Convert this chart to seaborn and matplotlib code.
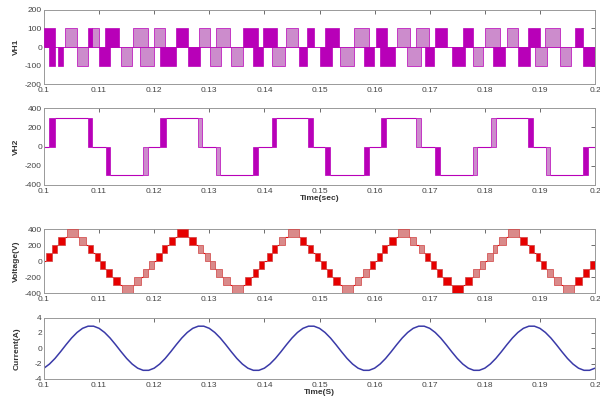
import numpy as np
import pandas as pd
import matplotlib
matplotlib.use("Agg")
import matplotlib.pyplot as plt
import seaborn as sns

# ---------------- data ----------------
time_ticks = [0.10, 0.11, 0.12, 0.13, 0.14, 0.15, 0.16, 0.17, 0.18, 0.19, 0.20]
time_tick_labels = ["0.1", "0.11", "0.12", "0.13", "0.14", "0.15", "0.16", "0.17", "0.18", "0.19", "0.2"]

vh1_ticks = [-200, -100, 0, 100, 200]
vh2_ticks = [-400, -200, 0, 200, 400]
volt_ticks = [-400, -200, 0, 200, 400]
cur_ticks = [-4, -2, 0, 2, 4]

# VH1 PWM blocks: start, end, level, dense(1)/sparse(0)
vh1_start = [0.1000, 0.1010, 0.1025, 0.1039, 0.1060, 0.1079, 0.1088, 0.1100, 0.1111, 0.1139,
             0.1161, 0.1174, 0.1199, 0.1210, 0.1240, 0.1262, 0.1282, 0.1302, 0.1312, 0.1339,
             0.1361, 0.1379, 0.1398, 0.1413, 0.1440, 0.1462, 0.1478, 0.1500, 0.1510, 0.1537,
             0.1562, 0.1580, 0.1603, 0.1610, 0.1640, 0.1658, 0.1676, 0.1692, 0.1710, 0.1740,
             0.1761, 0.1779, 0.1800, 0.1815, 0.1840, 0.1861, 0.1879, 0.1891, 0.1909, 0.1936,
             0.1963, 0.1979]
vh1_end = [0.1020, 0.1020, 0.1034, 0.1060, 0.1079, 0.1088, 0.1100, 0.1120, 0.1136, 0.1160,
           0.1189, 0.1199, 0.1219, 0.1240, 0.1262, 0.1283, 0.1302, 0.1322, 0.1337, 0.1361,
           0.1389, 0.1398, 0.1422, 0.1437, 0.1461, 0.1477, 0.1490, 0.1522, 0.1536, 0.1562,
           0.1589, 0.1598, 0.1623, 0.1637, 0.1664, 0.1685, 0.1698, 0.1707, 0.1731, 0.1764,
           0.1779, 0.1797, 0.1828, 0.1837, 0.1861, 0.1882, 0.1900, 0.1912, 0.1936, 0.1957,
           0.1979, 0.2000]
vh1_level = [100, -100, -100, 100, -100, 100, 100, -100, 100, -100,
             100, -100, 100, -100, 100, -100, 100, -100, 100, -100,
             100, -100, 100, -100, 100, -100, 100, -100, 100, -100,
             100, -100, 100, -100, 100, -100, 100, -100, 100, -100,
             100, -100, 100, -100, 100, -100, 100, -100, 100, -100,
             100, -100]
vh1_dense = [1, 1, 1, 0, 0, 1, 0, 1, 1, 0,
             0, 0, 0, 1, 1, 1, 0, 0, 0, 0,
             1, 1, 1, 0, 0, 1, 1, 1, 1, 0,
             0, 1, 1, 1, 0, 0, 0, 1, 1, 1,
             1, 0, 0, 1, 0, 1, 1, 0, 0, 0,
             1, 1]

# VH2 transition blocks: start, end, level before, level after, dense
vh2_start = [0.1010, 0.1080, 0.1112, 0.1180, 0.1211, 0.1280, 0.1312, 0.1379, 0.1413, 0.1480,
             0.1510, 0.1580, 0.1611, 0.1676, 0.1710, 0.1778, 0.1811, 0.1878, 0.1911, 0.1979]
vh2_end = [0.1020, 0.1088, 0.1120, 0.1189, 0.1221, 0.1287, 0.1320, 0.1389, 0.1421, 0.1488,
           0.1519, 0.1589, 0.1621, 0.1685, 0.1718, 0.1786, 0.1821, 0.1887, 0.1918, 0.1988]
vh2_from = [0, 300, 0, -300, 0, 300, 0, -300, 0, 300,
            0, -300, 0, 300, 0, -300, 0, 300, 0, -300]
vh2_to = [300, 0, -300, 0, 300, 0, -300, 0, 300, 0,
          -300, 0, 300, 0, -300, 0, 300, 0, -300, 0]
vh2_dense = [1, 1, 1, 0, 1, 0, 0, 1, 1, 1,
             1, 1, 1, 0, 1, 0, 0, 1, 0, 1]

# Output voltage staircase blocks (one block per level step, one list per cycle)
volt_cycle_start = [0.10, 0.12, 0.14, 0.16, 0.18]
volt_rel_start = [0.0004, 0.0014, 0.0026, 0.0042, 0.0064, 0.0080, 0.0092,
                  0.0102, 0.0113, 0.0125, 0.0141, 0.0164, 0.0179, 0.0191]
volt_rel_end = [0.0014, 0.0023, 0.0038, 0.0062, 0.0076, 0.0089, 0.0101,
                0.0111, 0.0123, 0.0138, 0.0161, 0.0176, 0.0189, 0.0200]
volt_low = [0, 100, 200, 300, 200, 100, 0, -100, -200, -300, -400, -300, -200, -100]
volt_step = 100
volt_dense = [
    [1, 1, 1, 0, 0, 1, 1, 1, 1, 1, 0, 0, 0, 0],
    [1, 1, 1, 1, 1, 0, 0, 0, 0, 0, 0, 1, 1, 1],
    [1, 1, 0, 0, 1, 1, 1, 1, 1, 1, 0, 0, 0, 1],
    [1, 1, 1, 0, 0, 0, 1, 1, 1, 1, 1, 1, 0, 0],
    [0, 0, 0, 0, 1, 1, 1, 1, 0, 0, 0, 1, 1, 1],
]

# Load current (A), sampled every 1 ms from 0.1 s to 0.2 s
cur_time = np.linspace(0.1, 0.2, 101)
cur_values = [
    -2.60, -2.06, -1.33, -0.46, 0.46, 1.33, 2.06, 2.60, 2.88, 2.88,
    2.60, 2.06, 1.33, 0.46, -0.46, -1.33, -2.06, -2.60, -2.88, -2.88,
    -2.60, -2.06, -1.33, -0.46, 0.46, 1.33, 2.06, 2.60, 2.88, 2.88,
    2.60, 2.06, 1.33, 0.46, -0.46, -1.33, -2.06, -2.60, -2.88, -2.88,
    -2.60, -2.06, -1.33, -0.46, 0.46, 1.33, 2.06, 2.60, 2.88, 2.88,
    2.60, 2.06, 1.33, 0.46, -0.46, -1.33, -2.06, -2.60, -2.88, -2.88,
    -2.60, -2.06, -1.33, -0.46, 0.46, 1.33, 2.06, 2.60, 2.88, 2.88,
    2.60, 2.06, 1.33, 0.46, -0.46, -1.33, -2.06, -2.60, -2.88, -2.88,
    -2.60, -2.06, -1.33, -0.46, 0.46, 1.33, 2.06, 2.60, 2.88, 2.88,
    2.60, 2.06, 1.33, 0.46, -0.46, -1.33, -2.06, -2.60, -2.88, -2.88,
    -2.60,
]

# ---------------- style ----------------
sns.set_style("white")
plt.rcParams["font.family"] = ["Liberation Sans", "DejaVu Sans"]

MAG_DARK = "#b800b8"
MAG_LIGHT = "#cc8ccc"
RED_DARK = "#e60000"
RED_LIGHT = "#d98a8a"
BLUE = "#3a3aa8"

fig = plt.figure(figsize=(6.0, 3.98), dpi=100)
left, width = 0.0733, 0.9184
ax1 = fig.add_axes([left, 0.7889, width, 0.1860])
ax2 = fig.add_axes([left, 0.5352, width, 0.1934])
ax3 = fig.add_axes([left, 0.2638, width, 0.1608])
ax4 = fig.add_axes([left, 0.0480, width, 0.1540])


def style_axis(ax, yticks, ylabel):
    ax.set_xlim(0.1, 0.2)
    ax.set_ylim(yticks[0], yticks[-1])
    ax.set_xticks(time_ticks)
    ax.set_xticklabels(time_tick_labels)
    ax.set_yticks(yticks)
    ax.set_yticklabels([str(v) for v in yticks])
    ax.tick_params(direction="in", length=3, width=0.6, top=True, right=True,
                   labelsize=6, colors="#555555", pad=1.5, labelcolor="#444444")
    ax.tick_params(axis="x", pad=2.5)
    for s in ax.spines.values():
        s.set_color("#999999")
        s.set_linewidth(0.7)
    ax.set_ylabel(ylabel, fontsize=6, fontweight="bold", color="#333333")
    ax.yaxis.set_label_coords(-0.043, 0.5)
    ax.grid(False)


# ---- panel 1 : VH1 ----
ax1.axhline(0, color=MAG_DARK, lw=0.6, zorder=1)
for dense_flag in (0, 1):
    idx = [i for i in range(len(vh1_start)) if vh1_dense[i] == dense_flag]
    ax1.bar([vh1_start[i] for i in idx],
            [vh1_level[i] for i in idx],
            width=[vh1_end[i] - vh1_start[i] for i in idx],
            align="edge",
            color=MAG_DARK if dense_flag else MAG_LIGHT,
            edgecolor=MAG_DARK, linewidth=0.5, zorder=2 + dense_flag)
style_axis(ax1, vh1_ticks, "VH1")

# ---- panel 2 : VH2 ----
seg_start = [0.1] + vh2_end
seg_end = vh2_start + [0.2]
seg_level = [vh2_from[0]] + vh2_to
ax2.hlines(seg_level, seg_start, seg_end, color=MAG_DARK, lw=0.8, zorder=2)
for i in range(len(vh2_start)):
    lo = min(vh2_from[i], vh2_to[i])
    hi = max(vh2_from[i], vh2_to[i])
    ax2.bar(vh2_start[i], hi - lo, bottom=lo, width=vh2_end[i] - vh2_start[i],
            align="edge", color=MAG_DARK if vh2_dense[i] else MAG_LIGHT,
            edgecolor=MAG_DARK, linewidth=0.5, zorder=3)
style_axis(ax2, vh2_ticks, "VH2")
ax2.set_xlabel("Time(sec)", fontsize=6, fontweight="bold", color="#333333", labelpad=0)

# ---- panel 3 : output voltage ----
for c, c0 in enumerate(volt_cycle_start):
    starts = [c0 + s for s in volt_rel_start]
    ends = [c0 + e for e in volt_rel_end]
    for i in range(len(starts) - 1):
        hi_i = volt_low[i] + volt_step
        lvl = hi_i if hi_i == volt_low[i + 1] else volt_low[i]
        ax3.hlines(lvl, ends[i], starts[i + 1], color=RED_DARK, lw=0.8, zorder=2)
    if c > 0:
        ax3.hlines(0, volt_cycle_start[c - 1] + volt_rel_end[-1], starts[0],
                   color=RED_DARK, lw=0.8, zorder=2)
    for i in range(len(starts)):
        ax3.bar(starts[i], volt_step, bottom=volt_low[i], width=ends[i] - starts[i],
                align="edge",
                color=RED_DARK if volt_dense[c][i] else RED_LIGHT,
                edgecolor="#d04040", linewidth=0.5, zorder=3)
ax3.hlines(0, 0.1, 0.1 + volt_rel_start[0], color=RED_DARK, lw=0.8)
style_axis(ax3, volt_ticks, "Voltage(V)")

# ---- panel 4 : current ----
df_cur = pd.DataFrame({"time": cur_time, "current": cur_values})
sns.lineplot(data=df_cur, x="time", y="current", ax=ax4, color=BLUE, lw=1.1)
style_axis(ax4, cur_ticks, "Current(A)")
ax4.set_xlabel("Time(S)", fontsize=6, fontweight="bold", color="#333333", labelpad=0)

fig.savefig("out.png", dpi=100, facecolor="white")
